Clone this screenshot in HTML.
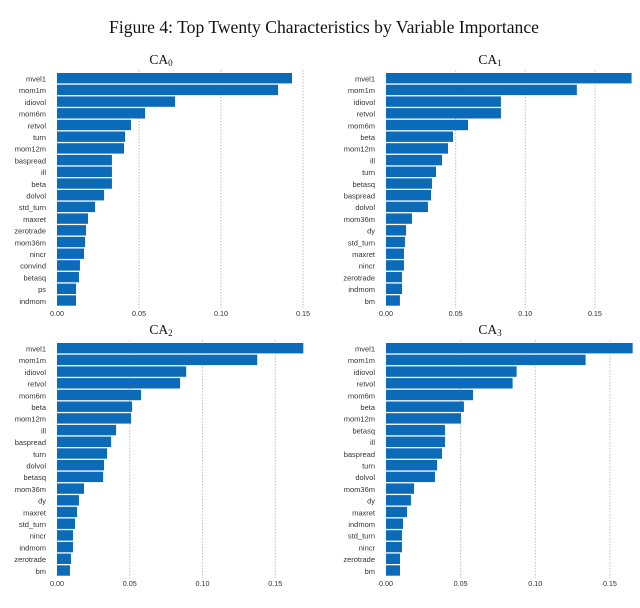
<!DOCTYPE html>
<html><head><meta charset="utf-8"><style>
html,body{margin:0;padding:0;background:#fff;}
svg{display:block;}
</style></head><body>
<svg id="chart" width="640" height="608" viewBox="0 0 640 608" xmlns="http://www.w3.org/2000/svg">
<text x="324" y="33" text-anchor="middle" font-family="Liberation Serif, serif" font-size="17.6" fill="#111">Figure 4:  Top Twenty Characteristics by Variable Importance</text>
</svg>
<script>
const ticks = [0, 0.05, 0.10, 0.15];
const tickLabels = ["0.00", "0.05", "0.10", "0.15"];
const panelTitles = ["0", "1", "2", "3"];
const names0 = ["mvel1","mom1m","idiovol","mom6m","retvol","turn","mom12m","baspread","ill","beta","dolvol","std_turn","maxret","zerotrade","mom36m","nincr","convind","betasq","ps","indmom"];
const values0 = [0.1433,0.1348,0.072,0.0537,0.0451,0.0415,0.0409,0.0335,0.0335,0.0335,0.0287,0.0232,0.0189,0.0177,0.0171,0.0165,0.014,0.0134,0.0116,0.0116];
const names1 = ["mvel1","mom1m","idiovol","retvol","mom6m","beta","mom12m","ill","turn","betasq","baspread","dolvol","mom36m","dy","std_turn","maxret","nincr","zerotrade","indmom","bm"];
const values1 = [0.1763,0.137,0.0825,0.0825,0.0589,0.0481,0.0445,0.0402,0.0359,0.033,0.0323,0.0301,0.0187,0.0144,0.0136,0.0129,0.0129,0.0115,0.0115,0.01];
const names2 = ["mvel1","mom1m","idiovol","retvol","mom6m","beta","mom12m","ill","baspread","turn","dolvol","betasq","mom36m","dy","maxret","std_turn","nincr","indmom","zerotrade","bm"];
const values2 = [0.1693,0.1376,0.0888,0.0846,0.0578,0.0516,0.0509,0.0406,0.0372,0.0344,0.0323,0.0317,0.0186,0.0151,0.0138,0.0124,0.011,0.011,0.0096,0.0089];
const names3 = ["mvel1","mom1m","idiovol","retvol","mom6m","beta","mom12m","betasq","ill","baspread","turn","dolvol","mom36m","dy","maxret","indmom","std_turn","nincr","zerotrade","bm"];
const values3 = [0.1652,0.1337,0.0875,0.0848,0.0583,0.0522,0.0502,0.0395,0.0395,0.0375,0.0342,0.0328,0.0188,0.0167,0.0141,0.0114,0.0107,0.0107,0.0094,0.0094];

const svg = document.getElementById('chart');
const NS = 'http://www.w3.org/2000/svg';
function mk(tag, attrs){ const e=document.createElementNS(NS,tag); for(const k in attrs) e.setAttribute(k,attrs[k]); return e; }

const layouts = [
  {x0:57, pxPer:1640, right:292, top:73, bottom:307, tx:161, ty:64, lx:46, names:names0, vals:values0},
  {x0:386, pxPer:1393, right:632, top:73, bottom:307, tx:490, ty:64, lx:375, names:names1, vals:values1},
  {x0:57, pxPer:1455, right:303, top:343, bottom:577, tx:161, ty:334, lx:46, names:names2, vals:values2},
  {x0:386, pxPer:1493, right:632, top:343, bottom:577, tx:490, ty:334, lx:375, names:names3, vals:values3}
];

layouts.forEach((L, p) => {
  const g = mk('g', {});
  
  
  svg.appendChild(g);
  const xs = v => L.x0 + v * L.pxPer;
  ticks.forEach((t, i) => {
    const x = xs(t);
    if (x > 636) return;
    if (i > 0) {
      const gl = mk('line', {x1:x, x2:x, y1:L.top-3, y2:L.bottom+1, stroke:'#c4c4c4', 'stroke-width':1.1, 'stroke-dasharray':'1.5,1.5'});
      
      
      g.appendChild(gl);
    }
    const tl = mk('text', {x:x, y:L.bottom+9, 'text-anchor':'middle', 'font-family':'Liberation Sans, sans-serif', 'font-size':7.2, fill:'#333'});
    
    
    tl.textContent = tickLabels[i];
    g.appendChild(tl);
  });
  const tt = mk('text', {x:L.tx, y:L.ty, 'text-anchor':'middle', 'font-family':'Liberation Serif, serif', 'font-size':13.5, fill:'#111'});
  
  
  tt.textContent = 'CA';
  const sub = mk('tspan', {'font-size':9, dy:2});
  sub.textContent = panelTitles[p];
  tt.appendChild(sub);
  g.appendChild(tt);
  const n = L.names.length;
  const step = (L.bottom - L.top) / n;
  L.vals.forEach((v, i) => {
    const y = L.top + i * step;
    const w = xs(v) - L.x0;
    const r = mk('rect', {x:L.x0, y:y, width:Math.max(0,Math.min(w, 636-L.x0)), height:step-1.3, fill:'#0b6bb8'});
    
    
    g.appendChild(r);
    const lb = mk('text', {x:L.lx, y:y+step/2+2.6, 'text-anchor':'end', 'font-family':'Liberation Sans, sans-serif', 'font-size':7.5, fill:'#333'});
    
    
    lb.textContent = L.names[i];
    g.appendChild(lb);
  });
});
</script>
</body></html>
